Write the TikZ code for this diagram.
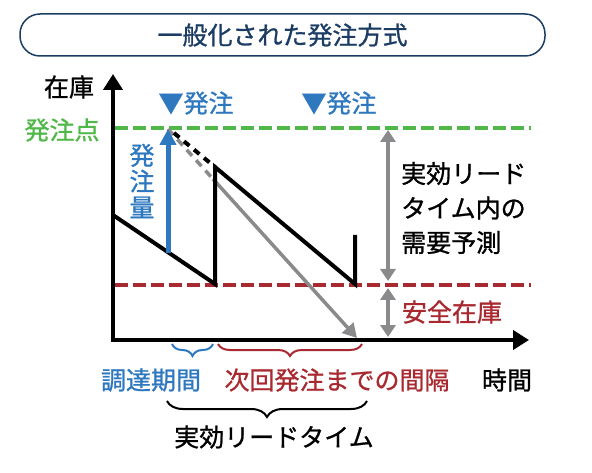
\documentclass[tikz,border=0pt]{standalone}
\usepackage{fontspec}
\setmainfont{Noto Sans CJK JP}[RawFeature={embolden=1.0}]
\usetikzlibrary{arrows.meta,decorations.pathreplacing}
\definecolor{navy}{HTML}{1B3D63}
\definecolor{ggreen}{HTML}{50B848}
\definecolor{rred}{HTML}{A8292F}
\definecolor{bblue}{HTML}{2E78C0}
\definecolor{ggray}{HTML}{8A8A8C}
\begin{document}
\begin{tikzpicture}[x=1pt,y=-1pt,
  every node/.style={inner sep=0pt},
  lbl/.style={font=\fontsize{25}{28}\selectfont},
  axis/.style={line width=4.5pt,line join=miter,{Triangle[length=16pt,width=19pt]}-{Triangle[length=16pt,width=19pt]}},
  refline/.style={line width=3.5pt,dash pattern=on 13pt off 5pt},
  saw/.style={line width=4pt,line join=miter},
  grayarrow/.style={ggray,line width=3.5pt},
  dbl/.style={ggray,line width=4pt,{Triangle[length=12pt,width=15pt]}-{Triangle[length=12pt,width=15pt]}},
  brc/.style={line width=2pt,decorate,decoration={brace,mirror,amplitude=#1}}]
\useasboundingbox (0,0) rectangle (592,473);
% title
\node[draw=navy,line width=1.5pt,rounded corners=20pt,minimum width=525pt,minimum height=42pt,
  text=navy,lbl] (title) at (282.5,35) {一般化された発注方式};
% axes
\coordinate (ytop) at (113,74);
\coordinate (orig) at (113,340);
\coordinate (xend) at (529,340);
\draw[axis] (ytop) -- (orig) -- (xend);
% reference lines
\coordinate (g1) at (115,128); \coordinate (g2) at (531,128);
\coordinate (r1) at (115,285); \coordinate (r2) at (531,285);
\draw[refline,ggreen] (g1) -- (g2);
\draw[refline,rred] (r1) -- (r2);
% gray forecast line
\coordinate (gs) at (168,129);
\coordinate (gm) at (213,179);
\coordinate (ge) at (357,338);
\draw[grayarrow,dash pattern=on 8pt off 6pt] (gs) -- (gm);
\draw[grayarrow,-{Triangle[length=14pt,width=15pt]}] (gm) -- (ge);
% sawtooth
\coordinate (s0) at (113,215);
\coordinate (s1) at (215,284);
\coordinate (s2) at (215,167);
\coordinate (s3) at (355,284);
\coordinate (s4) at (355,235);
\coordinate (bd) at (174,133);
\draw[saw] (s0) -- (s1) -- (s2) -- (s3) -- (s4);
\draw[line width=4pt,dash pattern=on 7pt off 6pt] (bd) -- (s2);
% order quantity arrow
\coordinate (q0) at (168,253);
\coordinate (q1) at (168,129);
\draw[bblue,line width=5pt,-{Triangle[length=16pt,width=16pt]}] (q0) -- (q1);
% right double arrows
\coordinate (d1) at (388,130); \coordinate (d2) at (388,281);
\coordinate (d3) at (388,288); \coordinate (d4) at (388,337);
\draw[dbl] (d1) -- (d2);
\draw[dbl] (d3) -- (d4);
% braces
\coordinate (b1) at (172,344); \coordinate (b2) at (213,344);
\coordinate (b3) at (218,344); \coordinate (b4) at (362,344);
\coordinate (b5) at (167,401); \coordinate (b6) at (367,401);
\draw[brc=12pt,bblue] (b1) -- (b2);
\draw[brc=12pt,rred] (b3) -- (b4);
\draw[brc=16pt,black] (b5) -- (b6);
% labels
\node[lbl] (zaiko) at (69,87) {在庫};
\node[lbl,text=bblue] (ord1) at (196,103) {▼発注};
\node[lbl,text=bblue] (ord2) at (339,103) {▼発注};
\node[lbl,text=ggreen] (rop) at (62,130) {発注点};
\node[font=\fontsize{25}{26}\selectfont,text=bblue,align=center] (qty) at (142,181) {発\\注\\量};
\node[font=\fontsize{25}{34.5}\selectfont,align=left,anchor=west] (demand) at (401,208) {実効リード\\タイム内の\\需要予測};
\node[lbl,text=rred] (safety) at (452,312) {安全在庫};
\node[lbl,text=bblue] (proc) at (151,380) {調達期間};
\node[lbl,text=rred] (intv) at (337,380) {次回発注までの間隔};
\node[lbl] (time) at (507,380) {時間};
\node[lbl] (elt) at (274,437) {実効リードタイム};
\end{tikzpicture}
\end{document}
